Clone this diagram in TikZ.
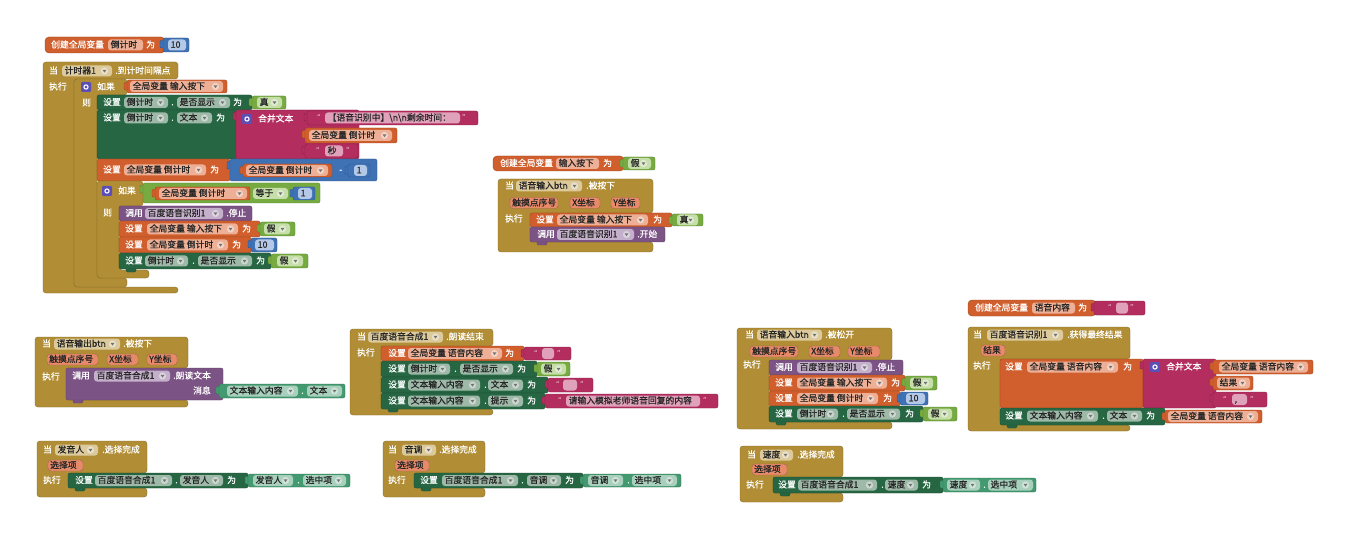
\documentclass[tikz,border=0pt]{standalone}
\usepackage{fontspec}
\setmainfont[FakeBold=0.6]{Noto Sans CJK SC}
\newfontfamily\lat{DejaVu Sans}
% block colours
\definecolor{ev}{HTML}{B18E35}\definecolor{evf}{HTML}{DCCA9C}
\definecolor{vr}{HTML}{D05F2D}\definecolor{vrf}{HTML}{EDB096}
\definecolor{cs}{HTML}{266643}\definecolor{csf}{HTML}{9FB9A9}
\definecolor{cg}{HTML}{439970}\definecolor{cgf}{HTML}{A8D0BD}
\definecolor{lg}{HTML}{77AB41}\definecolor{lgf}{HTML}{C6DEAA}
\definecolor{mt}{HTML}{3F71B5}\definecolor{mtf}{HTML}{B4C9E8}
\definecolor{tb}{HTML}{B32D5E}\definecolor{tbf}{HTML}{E0A2BA}
\definecolor{pr}{HTML}{7C5385}\definecolor{prf}{HTML}{C4B0CA}
\definecolor{pm}{HTML}{E68A6A}\definecolor{ic}{HTML}{5B4FB5}
\newcounter{nn}
% white label on a block
\newcommand\lb[3]{\stepcounter{nn}\node[lab] (n\arabic{nn}) at (#1,#2) {#3};}
% quote mark of a text block
\newcommand\qt[3]{\stepcounter{nn}\node[lab,font=\lat\fontsize{6.5}{7}\selectfont] (n\arabic{nn}) at (#1,#2) {#3};}
% statement block with its lower tab
\newcommand\stm[5]{\filldraw[blk,fill=#1,draw=#1!75!black,rounded corners=1.5pt] (#2+7,#5-3) rectangle (#2+17,#5+3);
  \filldraw[blk,fill=#1,draw=#1!75!black] (#2,#3) rectangle (#4,#5);}
% value block with output tab
\newcommand\val[5]{\filldraw[blk,fill=#1,draw=#1!75!black,rounded corners=1pt] (#2-3,#3+2.5) rectangle (#2+3,#3+10);
  \filldraw[blk,fill=#1,draw=#1!75!black] (#2,#3) rectangle (#4,#5);}
% top-level declaration block
\newcommand\decl[5]{\filldraw[blk,fill=#1,draw=#1!75!black,rounded corners=4pt] (#2,#3) rectangle (#4,#5);}
% dropdown field
\newcommand\fd[5]{\fill[#1,rounded corners=3pt] (#2,#4-5.5) rectangle (#3,#4+5.5);
  \stepcounter{nn}\node[ftx] (n\arabic{nn}) at (#2+2.5,#4) {#5};
  \fill[white,opacity=.45] (#3-7.5,#4) circle (3.6);
  \fill[black!55] (#3-9.5,#4-1.2) -- (#3-5.5,#4-1.2) -- (#3-7.5,#4+1.6) -- cycle;}
% plain field
\newcommand\pf[5]{\fill[#1,rounded corners=3pt] (#2,#4-5.5) rectangle (#3,#4+5.5);
  \stepcounter{nn}\node[ftx] (n\arabic{nn}) at (#2+2.5,#4) {#5};}
% event parameter
\newcommand\prm[4]{\filldraw[fill=pm,draw=pm!70!black,line width=.4pt,rounded corners=3pt] (#1,#3-5.5) rectangle (#2,#3+5.5);
  \stepcounter{nn}\node[ftx] (n\arabic{nn}) at (#1+2,#3) {#4};}
% mutator icon
\newcommand\gear[2]{\fill[ic,rounded corners=1.2pt] (#1-5,#2-5) rectangle (#1+5,#2+5);
  \draw[white,line width=1.1pt] (#1,#2) circle (2.1);}
% C-shaped event / control block
\newcommand\evshape[8]{\filldraw[fill=ev,draw=ev!75!black,line width=.4pt,rounded corners=3pt]
  (#1,#2) -- (#3,#2) -- (#3,#4) -- (#5,#4) -- (#5,#6) -- (#7,#6) -- (#7,#8) -- (#1,#8) -- cycle;}
\begin{document}
\begin{tikzpicture}[x=1pt,y=-1pt,
  lab/.style={text=white,font=\fontsize{8.8}{10}\selectfont,inner sep=0pt,anchor=west,text height=7pt,text depth=1.5pt},
  ftx/.style={text=black!85,font=\fontsize{8.8}{10}\selectfont,inner sep=0pt,anchor=west,text height=7pt,text depth=1.5pt},
  blk/.style={line width=0.4pt,rounded corners=2pt}]
\fill[white] (0,0) rectangle (1347,556);
\useasboundingbox (0,0) rectangle (1347,556);

%% global: countdown
\decl{vr}{45}{37}{165}{53}
\lb{51}{45}{创建全局变量}\pf{vrf}{108}{143}{45}{倒计时}\lb{146}{45}{为}
\val{mt}{163}{38}{189}{52}\pf{mtf}{168}{186}{45}{10}

%% timer event
\evshape{43}{62}{178}{79}{74}{287}{178}{293}
\lb{49}{71}{当}\fd{evf}{62}{112}{71}{计时器1}\lb{115}{71}{.到计时间隔点}
\lb{49}{87}{执行}
% outer if
\evshape{74}{79}{127}{95}{97}{278}{127}{287}
\gear{86}{87}\lb{97}{87}{如果}
\val{vr}{127}{80}{227}{93}\fd{vrf}{130}{223}{86.5}{全局变量 输入按下}
\lb{82}{103}{则}
\stm{cs}{97}{95}{252}{110}
\lb{103}{102.5}{设置}\fd{csf}{124}{168}{102.5}{倒计时}\lb{171}{102.5}{.}\fd{csf}{177}{230}{102.5}{是否显示}\lb{233}{102.5}{为}
\val{lg}{252}{96}{286}{109}\fd{lgf}{257}{282}{102.5}{真}
\stm{cs}{97}{110}{237}{159}
\lb{103}{118}{设置}\fd{csf}{124}{168}{118}{倒计时}\lb{171}{118}{.}\fd{csf}{177}{212}{118}{文本}\lb{216}{118}{为}
\val{tb}{236}{110}{359}{159}
\gear{247}{119}\lb{258}{119}{合并文本}
\val{tb}{307}{111}{478}{125}
\qt{317}{117}{“}\pf{tbf}{325}{460}{118}{【语音识别中】\textbackslash n\textbackslash n剩余时间：}\qt{462}{117}{”}
\val{vr}{305}{128}{397}{143}\fd{vrf}{309}{392}{135.5}{全局变量 倒计时}
\val{tb}{305}{144}{358}{158}
\qt{316}{150}{“}\pf{tbf}{325}{343}{151}{秒}\qt{346}{150}{”}
\stm{vr}{97}{159}{230}{181}
\lb{103}{170}{设置}\fd{vrf}{124}{206}{170}{全局变量 倒计时}\lb{210}{170}{为}
\val{mt}{230}{159}{377}{181}
\val{vr}{243}{164}{332}{177}\fd{vrf}{246}{328}{170.5}{全局变量 倒计时}
\lb{339}{170}{-}
\val{mt}{348}{164}{370}{177}\pf{mtf}{354}{367}{170.5}{1}
% inner if
\evshape{97}{181}{143}{206}{119}{270}{149}{278}
\gear{107}{191}\lb{118}{191}{如果}
\val{lg}{143}{183}{320}{203}
\val{vr}{155}{187}{250}{200}\fd{vrf}{159}{247}{193.5}{全局变量 倒计时}
\fd{lgf}{253}{288}{193.5}{等于}
\val{mt}{293}{187}{315}{200}\pf{mtf}{298}{312}{193.5}{1}
\lb{103}{213}{则}
\stm{pr}{119}{206}{252}{221}
\lb{125}{213.5}{调用}\fd{prf}{145}{223}{213.5}{百度语音识别1}\lb{226}{213.5}{.停止}
\stm{vr}{119}{221}{260}{237}
\lb{125}{229}{设置}\fd{vrf}{147}{238}{229}{全局变量 输入按下}\lb{242}{229}{为}
\val{lg}{260}{222}{295}{236}\fd{lgf}{264}{290}{229}{假}
\stm{vr}{119}{237}{251}{253}
\lb{125}{245}{设置}\fd{vrf}{147}{228}{245}{全局变量 倒计时}\lb{232}{245}{为}
\val{mt}{251}{238}{277}{252}\pf{mtf}{255}{274}{245}{10}
\stm{cs}{119}{253}{271}{269}
\lb{125}{261}{设置}\fd{csf}{145}{188}{261}{倒计时}\lb{192}{261}{.}\fd{csf}{198}{252}{261}{是否显示}\lb{256}{261}{为}
\val{lg}{271}{254}{308}{268}\fd{lgf}{277}{303}{261}{假}

%% global: button state
\decl{vr}{493}{156}{624}{171}
\lb{500}{163.5}{创建全局变量}\pf{vrf}{556}{599}{163.5}{输入按下}\lb{603}{163.5}{为}
\val{lg}{623}{157}{655}{170}\fd{lgf}{628}{651}{163.5}{假}

%% voice input pressed
\evshape{498}{179}{653}{213}{530}{242}{653}{252}
\lb{505}{186}{当}\fd{evf}{516}{582}{186}{语音输入btn}\lb{586}{186}{.被按下}
\prm{510}{558}{203}{触摸点序号}\prm{570}{600}{203}{X坐标}\prm{611}{640}{203}{Y坐标}
\lb{505}{219}{执行}
\stm{vr}{530}{213}{672}{227}
\lb{536}{220}{设置}\fd{vrf}{557}{648}{220}{全局变量 输入按下}\lb{653}{220}{为}
\val{lg}{672}{214}{703}{226}\fd{lgf}{677}{698}{220}{真}
\stm{pr}{530}{227}{665}{242}
\lb{537}{234.5}{调用}\fd{prf}{557}{634}{234.5}{百度语音识别1}\lb{637}{234.5}{.开始}

%% voice output pressed
\evshape{35}{337}{188}{368}{66}{400}{188}{407}
\lb{42}{344}{当}\fd{evf}{54}{120}{344}{语音输出btn}\lb{123}{344}{.被按下}
\prm{47}{98}{359.5}{触摸点序号}\prm{107}{138}{359.5}{X坐标}\prm{147}{177}{359.5}{Y坐标}
\lb{42}{377}{执行}
\stm{pr}{66}{368}{223}{400}
\lb{72}{376}{调用}\fd{prf}{94}{170}{376}{百度语音合成1}\lb{173}{376}{.朗读文本}
\lb{193}{391}{消息}
\val{cg}{219}{384}{345}{398}
\fd{cgf}{227}{298}{391}{文本输入内容}\lb{301}{391}{.}\fd{cgf}{307}{342}{391}{文本}

%% speech finished
\evshape{350}{329}{493}{346}{381}{409}{493}{415}
\lb{357}{337}{当}\fd{evf}{368}{443}{337}{百度语音合成1}\lb{446}{337}{.朗读结束}
\lb{357}{353}{执行}
\stm{vr}{381}{346}{524}{361}
\lb{388}{353.5}{设置}\fd{vrf}{408}{502}{353.5}{全局变量 语音内容}\lb{505}{353.5}{为}
\val{tb}{524}{347}{571}{360}\qt{534}{352.5}{“}\pf{tbf}{542}{554}{353.5}{}\qt{557}{352.5}{”}
\stm{cs}{381}{361}{537}{377}
\lb{388}{369}{设置}\fd{csf}{408}{450}{369}{倒计时}\lb{454}{369}{.}\fd{csf}{460}{513}{369}{是否显示}\lb{517}{369}{为}
\val{lg}{537}{362}{570}{376}\fd{lgf}{541}{566}{369}{假}
\stm{cs}{381}{377}{548}{393}
\lb{388}{385}{设置}\fd{csf}{408}{480}{385}{文本输入内容}\lb{484}{385}{.}\fd{csf}{488}{523}{385}{文本}\lb{527}{385}{为}
\val{tb}{548}{378}{593}{392}\qt{556}{384}{“}\pf{tbf}{563}{577}{385}{}\qt{580}{384}{”}
\stm{cs}{381}{393}{545}{409}
\lb{388}{401}{设置}\fd{csf}{408}{480}{401}{文本输入内容}\lb{484}{401}{.}\fd{csf}{488}{523}{401}{提示}\lb{527}{401}{为}
\val{tb}{545}{394}{718}{408}\qt{558}{400}{“}\pf{tbf}{566}{700}{401}{请输入模拟老师语音回复的内容}\qt{703}{400}{”}

%% voice input released
\evshape{737}{328}{892}{360}{769}{422}{892}{429}
\lb{745}{335}{当}\fd{evf}{757}{822}{335}{语音输入btn}\lb{825}{335}{.被松开}
\prm{750}{798}{351.5}{触摸点序号}\prm{809}{840}{351.5}{X坐标}\prm{848}{880}{351.5}{Y坐标}
\lb{743}{365}{执行}
\stm{pr}{769}{360}{903}{375}
\lb{775}{367.5}{调用}\fd{prf}{797}{872}{367.5}{百度语音识别1}\lb{875}{367.5}{.停止}
\stm{vr}{769}{375}{905}{391}
\lb{775}{383}{设置}\fd{vrf}{797}{887}{383}{全局变量 输入按下}\lb{891}{383}{为}
\val{lg}{905}{376}{937}{390}\fd{lgf}{910}{933}{383}{假}
\stm{vr}{769}{391}{900}{406}
\lb{775}{398.5}{设置}\fd{vrf}{797}{878}{398.5}{全局变量 倒计时}\lb{883}{398.5}{为}
\val{mt}{900}{392}{928}{405}\pf{mtf}{906}{925}{398.5}{10}
\stm{cs}{769}{406}{923}{422}
\lb{775}{414}{设置}\fd{csf}{797}{838}{414}{倒计时}\lb{842}{414}{.}\fd{csf}{847}{900}{414}{是否显示}\lb{905}{414}{为}
\val{lg}{923}{407}{957}{421}\fd{lgf}{928}{952}{414}{假}

%% global: recognised text
\decl{vr}{968}{300}{1096}{316}
\lb{975}{308}{创建全局变量}\pf{vrf}{1032}{1075}{308}{语音内容}\lb{1078}{308}{为}
\val{tb}{1094}{301}{1145}{315}\qt{1108}{307}{“}\pf{tbf}{1116}{1128}{308}{}\qt{1130}{307}{”}

%% final recognition result
\evshape{968}{327}{1130}{359}{1000}{425}{1130}{431}
\lb{973}{335}{当}\fd{evf}{987}{1063}{335}{百度语音识别1}\lb{1067}{335}{.获得最终结果}
\prm{981}{1005}{350.5}{结果}
\lb{973}{366}{执行}
\stm{vr}{1000}{359}{1143}{408}
\lb{1005}{367}{设置}\fd{vrf}{1027}{1118}{367}{全局变量 语音内容}\lb{1123}{367}{为}
\val{tb}{1143}{359}{1216}{408}
\gear{1155}{367}\lb{1166}{367}{合并文本}
\val{vr}{1213}{360}{1313}{374}\fd{vrf}{1219}{1308}{367}{全局变量 语音内容}
\val{vr}{1213}{376}{1253}{390}\fd{vrf}{1217}{1250}{383}{结果}
\val{tb}{1213}{392}{1267}{407}\qt{1223}{398.5}{“}\pf{tbf}{1232}{1247}{399.5}{,}\qt{1250}{398.5}{”}
\stm{cs}{1000}{408}{1165}{425}
\lb{1005}{416}{设置}\fd{csf}{1027}{1098}{416}{文本输入内容}\lb{1102}{416}{.}\fd{csf}{1107}{1142}{416}{文本}\lb{1146}{416}{为}
\val{vr}{1165}{410}{1262}{423}\fd{vrf}{1168}{1258}{416.5}{全局变量 语音内容}

%% speaker chosen
\evshape{37}{441}{147}{473}{68}{488}{147}{497}
\lb{43}{450}{当}\fd{evf}{55}{98}{450}{发音人}\lb{102}{450}{.选择完成}
\prm{48}{83}{465.5}{选择项}
\lb{43}{480.5}{执行}
\stm{cs}{68}{473}{248}{488}
\lb{75}{480.5}{设置}\fd{csf}{95}{172}{480.5}{百度语音合成1}\lb{175}{480.5}{.}\fd{csf}{180}{223}{480.5}{发音人}\lb{227}{480.5}{为}
\val{cg}{248}{474}{350}{487}
\fd{cgf}{253}{293}{480.5}{发音人}\lb{297}{480.5}{.}\fd{cgf}{303}{346}{480.5}{选中项}

%% pitch chosen
\evshape{383}{441}{485}{473}{414}{488}{485}{497}
\lb{388}{450}{当}\fd{evf}{402}{436}{450}{音调}\lb{439}{450}{.选择完成}
\prm{395}{429}{465.5}{选择项}
\lb{388}{480.5}{执行}
\stm{cs}{414}{473}{583}{488}
\lb{420}{480.5}{设置}\fd{csf}{442}{518}{480.5}{百度语音合成1}\lb{521}{480.5}{.}\fd{csf}{527}{561}{480.5}{音调}\lb{565}{480.5}{为}
\val{cg}{583}{474}{681}{487}
\fd{cgf}{588}{623}{480.5}{音调}\lb{627}{480.5}{.}\fd{cgf}{632}{677}{480.5}{选中项}

%% speed chosen
\evshape{740}{446}{843}{477}{773}{493}{843}{502}
\lb{747}{455}{当}\fd{evf}{760}{793}{455}{速度}\lb{797}{455}{.选择完成}
\prm{752}{787}{469.5}{选择项}
\lb{746}{485}{执行}
\stm{cs}{773}{477}{943}{493}
\lb{778}{485}{设置}\fd{csf}{798}{877}{485}{百度语音合成1}\lb{881}{485}{.}\fd{csf}{885}{918}{485}{速度}\lb{922}{485}{为}
\val{cg}{943}{478}{1036}{492}
\fd{cgf}{947}{980}{485}{速度}\lb{983}{485}{.}\fd{cgf}{988}{1033}{485}{选中项}
\end{tikzpicture}
\end{document}
